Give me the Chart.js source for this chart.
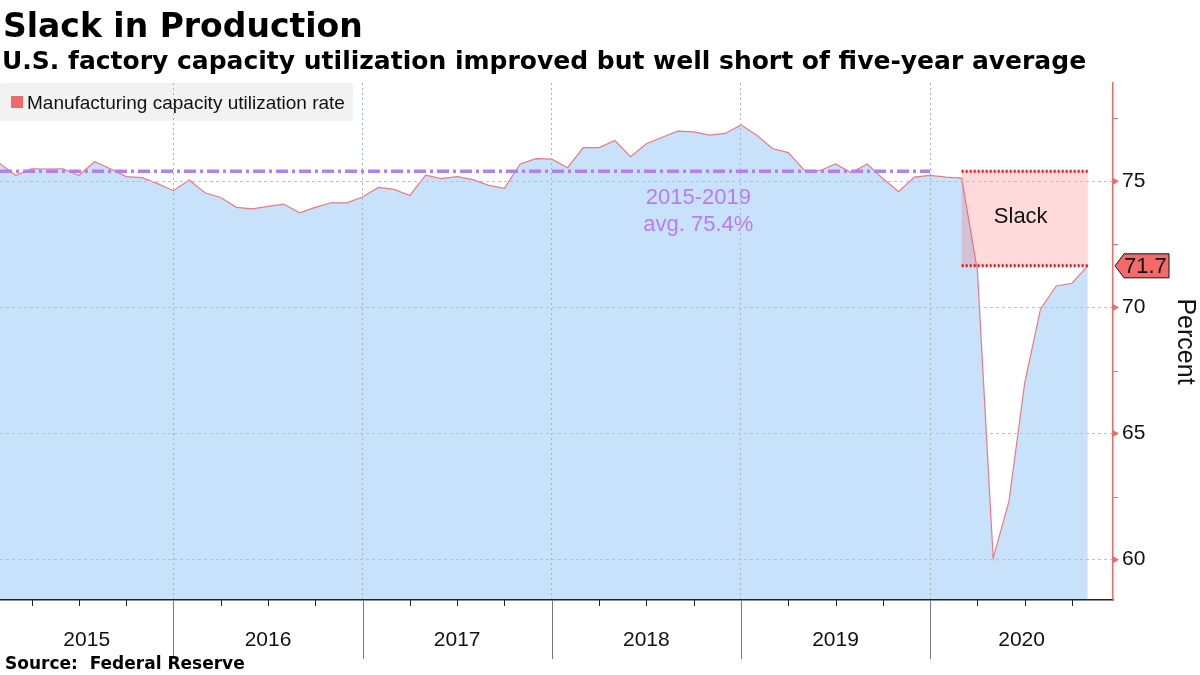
<!DOCTYPE html>
<html>
<head>
<meta charset="utf-8">
<script src="https://cdn.jsdelivr.net/npm/chart.js@4.4.0/dist/chart.umd.min.js"></script>
<style>
  html, body { margin: 0; background: #fff; }
  canvas { display: block; }
</style>
</head>
<body>
<canvas id="chart" width="1200" height="675"></canvas>
<script>
const years = ["2015", "2016", "2017", "2018", "2019", "2020"]
// monthly manufacturing capacity utilization, Jan 2015 .. Oct 2020
const utilization = [
    75.70, 75.23, 75.50, 75.49, 75.50, 75.23, 75.78, 75.50, 75.19, 75.15, 74.91, 74.63,
    75.05, 74.55, 74.36, 73.97, 73.91, 74.01, 74.10, 73.75, 73.97, 74.15, 74.15, 74.38,
    74.76, 74.68, 74.44, 75.25, 75.11, 75.19, 75.07, 74.84, 74.72, 75.69, 75.90, 75.88,
    75.54, 76.34, 76.34, 76.62, 75.98, 76.49, 76.75, 76.99, 76.96, 76.83, 76.90, 77.24,
    76.83, 76.30, 76.14, 75.45, 75.42, 75.69, 75.34, 75.69, 75.11, 74.59, 75.17, 75.24,
    75.17, 75.13, 71.45, 60.06, 62.31, 67.01, 69.93, 70.85, 70.96, 71.65,
]
const yTickValues = [60, 62.5, 65, 67.5, 70, 72.5, 75, 77.5]
const avgValue = 75.4
const avgLabel = ["2015-2019", "avg. 75.4%"]
const avgMonths = 60          // five years of months
const slackStartIndex = 61    // Feb 2020
const lastLabel = "71.7"

const FONT = '"Liberation Sans", Arial, sans-serif'
const BOLD = '"DejaVu Sans", Verdana, sans-serif'
const RED = "#f06a6a"

// a month's value is drawn at the end of that month
const points = utilization.map((v, i) => ({ x: i + 1, y: v }))
const avgPoints = [{ x: 1, y: avgValue }, { x: avgMonths, y: avgValue }]
const xTicks = []
for (let m = 3; m < years.length * 12; m += 3) xTicks.push(m)

const decorations = {
    id: "decorations",
    beforeDatasetsDraw(chart) {
        // legend sits under the grid lines, like the original
        const { ctx } = chart
        ctx.save()
        ctx.fillStyle = "#f2f2f2"
        ctx.beginPath()
        ctx.roundRect(0, 83, 353, 38, 3)
        ctx.fill()
        ctx.fillStyle = RED
        ctx.fillRect(11, 96, 12, 12)
        ctx.fillStyle = "#111"
        ctx.font = "19px " + FONT
        ctx.textBaseline = "alphabetic"
        ctx.fillText("Manufacturing capacity utilization rate", 27, 109)
        ctx.restore()
    },
    afterDatasetsDraw(chart) {
        const { ctx, scales: { x, y } } = chart
        const x1 = x.getPixelForValue(slackStartIndex + 1)
        const x2 = x.getPixelForValue(utilization.length)
        const yTop = y.getPixelForValue(avgValue)
        const yBot = y.getPixelForValue(utilization[utilization.length - 1])
        ctx.save()
        ctx.fillStyle = "rgba(255, 70, 70, 0.2)"
        ctx.fillRect(x1, yTop, x2 - x1, yBot - yTop)
        ctx.strokeStyle = "#e3121b"
        ctx.lineWidth = 3
        ctx.setLineDash([2, 2])
        ctx.beginPath()
        ctx.moveTo(x1, yTop); ctx.lineTo(x2, yTop)
        ctx.moveTo(x1, yBot); ctx.lineTo(x2, yBot)
        ctx.stroke()
        ctx.setLineDash([])
        ctx.fillStyle = "#111"
        ctx.font = "22px " + FONT
        ctx.textAlign = "center"
        ctx.textBaseline = "middle"
        ctx.fillText("Slack", (x1 + x2) / 2 - 4, (yTop + yBot) / 2 - 2)

        // average annotation
        ctx.fillStyle = "#b97cf2"
        const ax = x.getPixelForValue(45.3)
        const ay = y.getPixelForValue(avgValue)
        ctx.fillText(avgLabel[0], ax, ay + 27)
        ctx.fillText(avgLabel[1], ax, ay + 54)
        ctx.restore()
    },
    afterDraw(chart) {
        const { ctx, chartArea: area, scales: { x, y } } = chart
        ctx.save()
        // x-axis ticks
        ctx.lineWidth = 1
        xTicks.forEach((m) => {
            const px = Math.round(x.getPixelForValue(m)) + 0.5
            ctx.beginPath()
            if (m % 12 === 0) {
                ctx.strokeStyle = "#777"
                ctx.moveTo(px, area.bottom); ctx.lineTo(px, area.bottom + 59)
            } else {
                ctx.strokeStyle = "#222"
                ctx.moveTo(px, area.bottom); ctx.lineTo(px, area.bottom + 6)
            }
            ctx.stroke()
        })
        // year labels, centred in the visible part of each year
        ctx.fillStyle = "#111"
        ctx.font = "21px " + FONT
        ctx.textAlign = "center"
        ctx.textBaseline = "alphabetic"
        years.forEach((yr, i) => {
            const a = Math.max(x.min, i * 12)
            const b = Math.min(x.max, (i + 1) * 12)
            ctx.fillText(yr, (x.getPixelForValue(a) + x.getPixelForValue(b)) / 2, 646)
        })
        // y-axis tick marks
        ctx.fillStyle = RED
        ctx.strokeStyle = RED
        yTickValues.forEach((v) => {
            const py = y.getPixelForValue(v)
            if (v % 5 === 0) {
                ctx.beginPath()
                ctx.moveTo(area.right, py - 3.5)
                ctx.lineTo(area.right + 6, py)
                ctx.lineTo(area.right, py + 3.5)
                ctx.closePath()
                ctx.fill()
            } else {
                ctx.beginPath()
                ctx.moveTo(area.right, Math.round(py) + 0.5)
                ctx.lineTo(area.right + 5, Math.round(py) + 0.5)
                ctx.stroke()
            }
        })
        // last value flag
        const ly = y.getPixelForValue(utilization[utilization.length - 1])
        const fx = area.right + 2
        ctx.beginPath()
        ctx.moveTo(fx, ly)
        ctx.lineTo(fx + 9, ly - 12)
        ctx.lineTo(fx + 54, ly - 12)
        ctx.lineTo(fx + 54, ly + 12)
        ctx.lineTo(fx + 9, ly + 12)
        ctx.closePath()
        ctx.fillStyle = "#f46a6a"
        ctx.fill()
        ctx.strokeStyle = "#111"
        ctx.lineWidth = 1
        ctx.stroke()
        ctx.fillStyle = "#111"
        ctx.font = "22px " + FONT
        ctx.textAlign = "left"
        ctx.textBaseline = "middle"
        ctx.fillText(lastLabel, fx + 9, ly + 1)

        // titles and source
        ctx.textBaseline = "alphabetic"
        ctx.fillStyle = "#000"
        ctx.font = "bold 33px " + BOLD
        ctx.fillText("Slack in Production", 3, 37)
        ctx.font = "bold 25px " + BOLD
        ctx.fillText("U.S. factory capacity utilization improved but well short of five-year average", 2, 69)
        ctx.font = "bold 17px " + BOLD
        ctx.fillText("Source:  Federal Reserve", 5, 669)
        ctx.restore()
    },
}

new Chart(document.getElementById("chart").getContext("2d"), {
    type: "line",
    data: {
        datasets: [
            {
                data: avgPoints,
                borderColor: "#b47ff0",
                borderWidth: 3.5,
                borderDash: [12, 4, 3, 4],
                pointRadius: 0,
                fill: false,
            },
            {
                data: points,
                borderColor: "#ea7a80",
                borderWidth: 1.2,
                backgroundColor: "#c9e2fb",
                pointRadius: 0,
                fill: "start",
                tension: 0,
            },
        ],
    },
    options: {
        responsive: false,
        animation: false,
        layout: { padding: { top: 83, left: 0, right: 0, bottom: 0 } },
        plugins: {
            legend: { display: false },
            tooltip: { enabled: false },
        },
        scales: {
            x: {
                type: "linear",
                min: 1,
                max: 71.6,
                afterBuildTicks: (s) => { s.ticks = xTicks.map((v) => ({ value: v })) },
                afterFit: (s) => { s.height = 75 },
                ticks: { display: false },
                grid: {
                    z: 1,
                    drawTicks: false,
                    color: (c) => (c.tick && c.tick.value % 12 === 0 ? "#a9b1bc" : "rgba(0,0,0,0)"),
                    lineWidth: 1,
                },
                border: { z: 1, color: "#222", width: 1.5, dash: [2, 3] },
            },
            y: {
                position: "right",
                min: 58.4,
                max: 78.9,
                afterBuildTicks: (s) => { s.ticks = yTickValues.map((v) => ({ value: v })) },
                afterFit: (s) => { s.width = 87 },
                ticks: {
                    padding: 9,
                    color: "#111",
                    font: { family: FONT, size: 21 },
                    callback: (v) => (v % 5 === 0 ? v : ""),
                },
                grid: {
                    z: 1,
                    drawTicks: false,
                    color: (c) => (c.tick && c.tick.value % 5 === 0 ? "#bcc1c7" : "rgba(0,0,0,0)"),
                    lineWidth: 1,
                },
                border: { z: 1, color: RED, width: 1.5, dash: [3, 3] },
                title: {
                    display: true,
                    text: "Percent",
                    color: "#111",
                    font: { family: FONT, size: 25 },
                    padding: { top: 0, bottom: 2 },
                },
            },
        },
    },
    plugins: [decorations],
})
</script>
</body>
</html>
